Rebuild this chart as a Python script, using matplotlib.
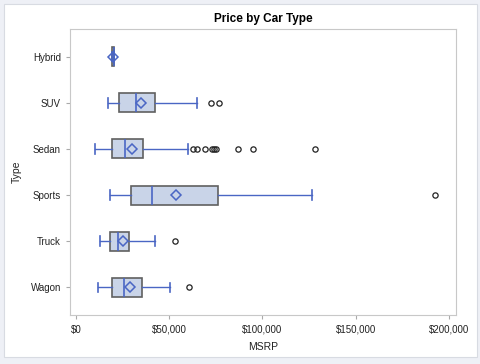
import matplotlib.pyplot as plt
from matplotlib.patches import Rectangle
from matplotlib.ticker import FuncFormatter

plt.rcParams['font.family'] = ['Liberation Sans', 'DejaVu Sans']

# Car types, top to bottom as shown
types = ['Hybrid', 'SUV', 'Sedan', 'Sports', 'Truck', 'Wagon']

# MSRP summary values (in dollars)
whisker_lo = [19110, 17200, 10300, 18300, 12800, 12000]
q1 = [19110, 23000, 19500, 29300, 18200, 19100]
median = [20140, 32200, 26500, 40600, 22400, 25500]
q3 = [20510, 42400, 36100, 76300, 28200, 35200]
whisker_hi = [20510, 64900, 60100, 126700, 42400, 50600]
mean = [19920, 34800, 29900, 53400, 25000, 28800]
outliers = [
    [],
    [72200, 76870],
    [62900, 64700, 69000, 72900, 74000, 75000, 87000, 94800, 128420],
    [192465],
    [53100],
    [60700],
]

stats = []
for i in range(len(types)):
    stats.append({
        'label': types[i],
        'whislo': whisker_lo[i], 'q1': q1[i], 'med': median[i],
        'q3': q3[i], 'whishi': whisker_hi[i], 'mean': mean[i],
        'fliers': outliers[i],
    })

fig = plt.figure(figsize=(4.81, 3.64), dpi=100, facecolor='#eef0f6')
# white panel with a thin border, like the exported graph frame
fig.patches.append(Rectangle((4 / 481, 1 - 357 / 364), 473 / 481, 353 / 364,
                             transform=fig.transFigure, facecolor='white',
                             edgecolor='#d8dbe2', lw=0.8, zorder=-5))
ax = fig.add_axes([70 / 481, 1 - 315 / 364, 386 / 481, 286 / 364])
ax.set_zorder(1)

positions = list(range(len(types), 0, -1))
blue = '#4a66c4'
ax.bxp(stats, positions=positions, vert=False, widths=0.41,
       patch_artist=True, showmeans=True,
       boxprops=dict(facecolor='#c9d4e8', edgecolor='#606060', lw=1.2),
       medianprops=dict(color=blue, lw=1.2),
       whiskerprops=dict(color=blue, lw=1.0),
       capprops=dict(color=blue, lw=1.2),
       meanprops=dict(marker='D', markersize=5.5, markerfacecolor='none',
                      markeredgecolor=blue, markeredgewidth=1.1),
       flierprops=dict(marker='o', markersize=3.8, markerfacecolor='none',
                       markeredgecolor='#222222', markeredgewidth=0.9))

ax.set_xlim(-3200, 203800)
ax.set_ylim(0.4, 6.6)
ax.set_xticks([0, 50000, 100000, 150000, 200000])
ax.xaxis.set_major_formatter(FuncFormatter(lambda v, p: '${:,.0f}'.format(v)))
ax.set_yticks(positions)
ax.set_yticklabels(types)

for s in ax.spines.values():
    s.set_color('#c8c8c8')
ax.tick_params(axis='both', labelsize=7, color='#aaaaaa', length=3,
               labelcolor='#222222')
ax.tick_params(axis='x', pad=4)
ax.set_xlabel('MSRP', fontsize=7.5, color='#222222', labelpad=5)
ax.set_ylabel('Type', fontsize=7.5, color='#222222', labelpad=6)
ax.set_title('Price by Car Type', fontsize=8.5, fontweight='bold', pad=5)

plt.savefig('out.png', dpi=100, facecolor=fig.get_facecolor())
